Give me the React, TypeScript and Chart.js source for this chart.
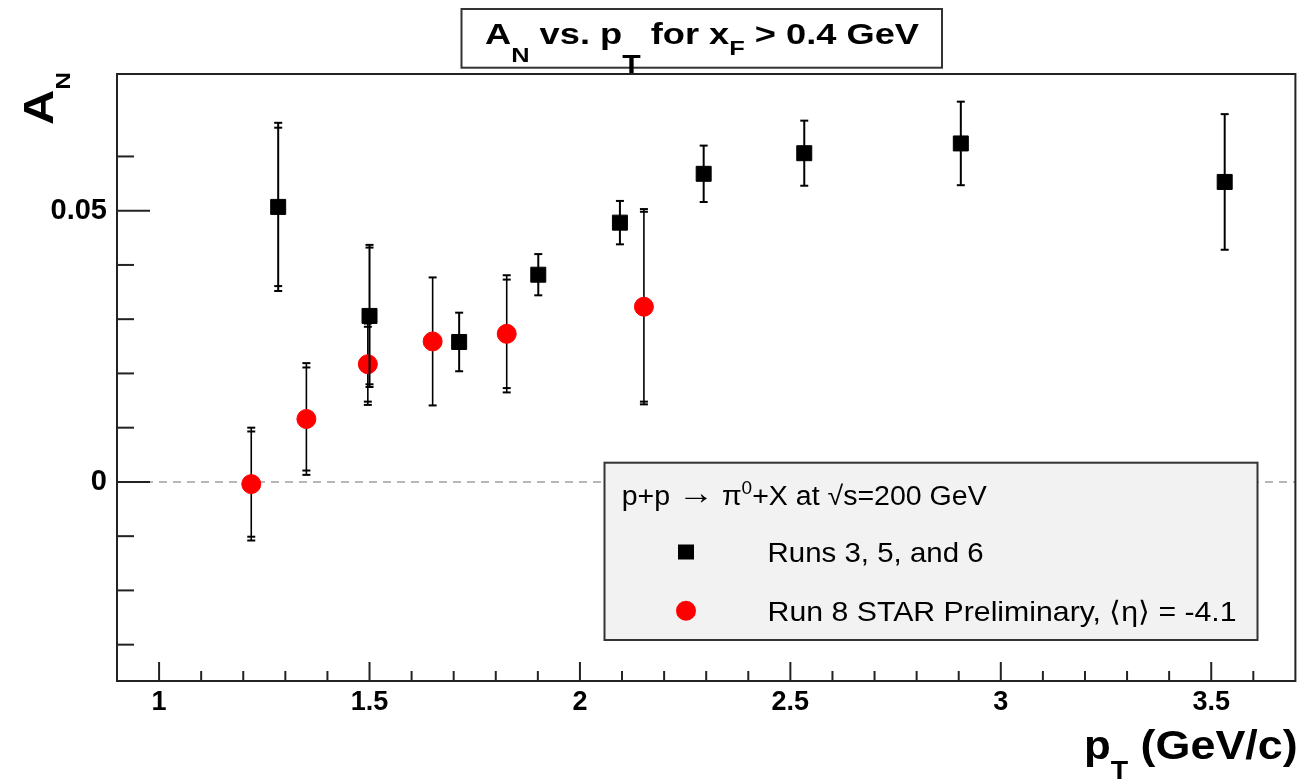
import React, { useEffect, useRef } from 'react';
import { Chart, registerables } from 'chart.js';

Chart.register(...registerables);

// ---------- data ----------
const runs356Label = 'Runs 3, 5, and 6';
const runs356X = [1.283, 1.5, 1.713, 1.901, 2.095, 2.294, 2.533, 2.905, 3.532];
const runs356Y = [0.0507, 0.0306, 0.0258, 0.0382, 0.0478, 0.0568, 0.0606, 0.0624, 0.0553];
const runs356ErrInner = [0.0146, 0.0126, 0.0054, 0.0038, 0.004, 0.0052, 0.006, 0.0077, 0.0125];
const runs356ErrOuter = [0.0155, 0.0131, 0.0054, 0.0038, 0.004, 0.0052, 0.006, 0.0077, 0.0125];

const run8Label = 'Run 8 STAR Preliminary, \u27E8\u03B7\u27E9 = -4.1';
const run8X = [1.219, 1.35, 1.496, 1.65, 1.826, 2.152];
const run8Y = [-0.0004, 0.0116, 0.0217, 0.0259, 0.0273, 0.0323];
const run8ErrInner = [0.0097, 0.0095, 0.0069, 0.0118, 0.01, 0.0175];
const run8ErrOuter = [0.0104, 0.0103, 0.0075, 0.0118, 0.0108, 0.018];

const xMin = 0.9;
const xMax = 3.7;
const yMin = -0.0367;
const yMax = 0.0752;
const xLabelValues = [1, 1.5, 2, 2.5, 3, 3.5];
const yLabelValues = [0, 0.05];

const FONT = '"Liberation Sans", Arial, Helvetica, sans-serif';

type Seg = { t: string; size: number; dy?: number; bold?: boolean };

function drawSegs(ctx: CanvasRenderingContext2D, segs: Seg[], x: number, baseline: number, targetWidth: number) {
  let total = 0;
  const widths = segs.map((s) => {
    ctx.font = `${s.bold ? 'bold ' : ''}${s.size}px ${FONT}`;
    const w = ctx.measureText(s.t).width;
    total += w;
    return w;
  });
  const sx = targetWidth / total;
  ctx.save();
  ctx.translate(x, baseline);
  ctx.scale(sx, 1);
  ctx.textAlign = 'left';
  ctx.textBaseline = 'alphabetic';
  ctx.fillStyle = '#000';
  let cx = 0;
  segs.forEach((s, i) => {
    ctx.font = `${s.bold ? 'bold ' : ''}${s.size}px ${FONT}`;
    ctx.fillText(s.t, cx, s.dy || 0);
    cx += widths[i];
  });
  ctx.restore();
}

const isMult = (v: number, step: number) => Math.abs(v / step - Math.round(v / step)) < 1e-6;

const errorBarPlugin = {
  id: 'errorBars',
  beforeDatasetDraw(chart: any, args: any) {
    const ds = chart.data.datasets[args.index];
    const { ctx } = chart;
    const xs = chart.scales.x;
    const ys = chart.scales.y;
    ctx.save();
    ctx.strokeStyle = '#000';
    ds.data.forEach((p: any, i: number) => {
      const px = xs.getPixelForValue(p.x);
      const outer = ds.errOuter[i];
      const inner = ds.errInner[i];
      const top = ys.getPixelForValue(p.y + outer);
      const bot = ys.getPixelForValue(p.y - outer);
      ctx.lineWidth = ds.errLineWidth;
      ctx.beginPath();
      ctx.moveTo(px, top);
      ctx.lineTo(px, bot);
      ctx.stroke();
      ctx.lineWidth = 2;
      const caps = [p.y + outer, p.y - outer];
      if (Math.abs(inner - outer) > 1e-9) caps.push(p.y + inner, p.y - inner);
      caps.forEach((v) => {
        const py = ys.getPixelForValue(v);
        ctx.beginPath();
        ctx.moveTo(px - 4, py);
        ctx.lineTo(px + 4, py);
        ctx.stroke();
      });
    });
    ctx.restore();
  },
};

const framePlugin = {
  id: 'rootFrame',
  beforeDatasetsDraw(chart: any) {
    const { ctx, chartArea } = chart;
    const ys = chart.scales.y;
    const y0 = ys.getPixelForValue(0);
    ctx.save();
    ctx.strokeStyle = '#a0a0a0';
    ctx.lineWidth = 1.5;
    ctx.setLineDash([8, 6]);
    ctx.beginPath();
    ctx.moveTo(chartArea.left, y0);
    ctx.lineTo(chartArea.right, y0);
    ctx.stroke();
    ctx.restore();
  },
  afterDatasetsDraw(chart: any) {
    const { ctx, chartArea } = chart;
    const xs = chart.scales.x;
    const ys = chart.scales.y;
    ctx.save();
    ctx.strokeStyle = '#222';
    ctx.lineWidth = 2;
    // ticks on y axis (inside)
    ys.ticks.forEach((t: any) => {
      const v = t.value;
      if (!isMult(v, 0.01)) return;
      const py = ys.getPixelForValue(v);
      if (py < chartArea.top + 2 || py > chartArea.bottom - 2) return;
      const len = isMult(v, 0.05) ? 33 : 17;
      ctx.beginPath();
      ctx.moveTo(chartArea.left, py);
      ctx.lineTo(chartArea.left + len, py);
      ctx.stroke();
    });
    // ticks on x axis (inside)
    xs.ticks.forEach((t: any) => {
      const v = t.value;
      if (!isMult(v, 0.1)) return;
      const px = xs.getPixelForValue(v);
      if (px < chartArea.left + 2 || px > chartArea.right - 2) return;
      const len = isMult(v, 0.5) ? 19 : 10;
      ctx.beginPath();
      ctx.moveTo(px, chartArea.bottom);
      ctx.lineTo(px, chartArea.bottom - len);
      ctx.stroke();
    });
    ctx.strokeRect(chartArea.left, chartArea.top, chartArea.right - chartArea.left, chartArea.bottom - chartArea.top);
    ctx.restore();
  },
  afterDraw(chart: any) {
    const { ctx } = chart;
    const datasets = chart.data.datasets;
    // legend box
    ctx.save();
    ctx.fillStyle = '#f2f2f2';
    ctx.fillRect(604.5, 462.7, 653, 177.3);
    ctx.strokeStyle = '#333';
    ctx.lineWidth = 2;
    ctx.strokeRect(604.5, 462.7, 653, 177.3);
    ctx.restore();
    drawSegs(
      ctx,
      [
        { t: 'p+p ', size: 27 },
        { t: '\u2192', size: 34, dy: -1 },
        { t: ' \u03C0', size: 27 },
        { t: '0', size: 18, dy: -11 },
        { t: '+X at \u221As=200 GeV', size: 27 },
      ],
      621.7,
      505,
      365
    );
    // legend markers
    ctx.save();
    ctx.fillStyle = datasets[0].pointBackgroundColor;
    ctx.fillRect(686 - 8, 552 - 7.5, 16, 15);
    ctx.fillStyle = datasets[1].pointBackgroundColor;
    ctx.beginPath();
    ctx.arc(686, 610.7, 10, 0, Math.PI * 2);
    ctx.fill();
    ctx.restore();
    drawSegs(ctx, [{ t: datasets[0].label, size: 28 }], 767.6, 562, 216);
    drawSegs(ctx, [{ t: datasets[1].label, size: 28 }], 767.6, 620.5, 469);

    // title box
    ctx.save();
    ctx.fillStyle = '#fff';
    ctx.fillRect(461.5, 9, 480.5, 58.7);
    ctx.strokeStyle = '#333';
    ctx.lineWidth = 2;
    ctx.strokeRect(461.5, 9, 480.5, 58.7);
    ctx.restore();
    drawSegs(
      ctx,
      [
        { t: 'A', size: 30, bold: true },
        { t: 'N', size: 21, dy: 18, bold: true },
        { t: ' vs. p', size: 30, bold: true },
        { t: 'T', size: 25, dy: 29, bold: true },
        { t: ' for x', size: 30, bold: true },
        { t: 'F', size: 21, dy: 11, bold: true },
        { t: ' > 0.4 GeV', size: 30, bold: true },
      ],
      485,
      44,
      434
    );

    // y axis title (rotated)
    ctx.save();
    ctx.translate(53, 125);
    ctx.rotate(-Math.PI / 2);
    drawSegs(
      ctx,
      [
        { t: 'A', size: 42, bold: true },
        { t: 'N', size: 21, dy: 17, bold: true },
      ],
      0,
      0,
      53
    );
    ctx.restore();

    // x axis title
    drawSegs(
      ctx,
      [
        { t: 'p', size: 40, bold: true },
        { t: 'T', size: 26, dy: 20, bold: true },
        { t: ' (GeV/c)', size: 41, bold: true },
      ],
      1084,
      759,
      213.7
    );
  },
};

export default function App() {
  const ref = useRef<HTMLCanvasElement>(null);
  useEffect(() => {
    if (!ref.current) return;
    const chart = new Chart(ref.current, {
      type: 'scatter',
      data: {
        datasets: [
          {
            label: runs356Label,
            data: runs356X.map((x, i) => ({ x, y: runs356Y[i] })),
            pointStyle: 'rect',
            pointRadius: 10.6,
            pointBackgroundColor: '#000000',
            pointBorderColor: '#000000',
            pointBorderWidth: 1,
            errInner: runs356ErrInner,
            errOuter: runs356ErrOuter,
            errLineWidth: 2,
          } as any,
          {
            label: run8Label,
            data: run8X.map((x, i) => ({ x, y: run8Y[i] })),
            pointStyle: 'circle',
            pointRadius: 9.5,
            pointBackgroundColor: '#ff0000',
            pointBorderColor: '#ff0000',
            pointBorderWidth: 1,
            errInner: run8ErrInner,
            errOuter: run8ErrOuter,
            errLineWidth: 1.6,
          } as any,
        ],
      },
      options: {
        responsive: false,
        animation: false,
        devicePixelRatio: 1,
        layout: { padding: { left: 0, top: 74, right: 9.3, bottom: 0 } },
        plugins: {
          legend: { display: false },
          tooltip: { enabled: false },
          title: { display: false },
        },
        scales: {
          x: {
            type: 'linear',
            min: xMin,
            max: xMax,
            afterFit: (s: any) => {
              s.height = 102;
            },
            grid: { display: false, drawTicks: false },
            border: { display: false },
            ticks: {
              stepSize: 0.1,
              autoSkip: false,
              maxRotation: 0,
              minRotation: 0,
              padding: 5,
              color: '#000',
              font: { family: FONT, weight: 'bold', size: 27 },
              callback: (value: any) => {
                const v = Number(value);
                return xLabelValues.some((l) => Math.abs(l - v) < 1e-6) ? String(Math.round(v * 10) / 10) : '';
              },
            },
          },
          y: {
            type: 'linear',
            min: yMin,
            max: yMax,
            afterFit: (s: any) => {
              s.width = 117;
            },
            grid: { display: false, drawTicks: false },
            border: { display: false },
            ticks: {
              stepSize: 0.01,
              autoSkip: false,
              padding: 10,
              color: '#000',
              font: { family: FONT, weight: 'bold', size: 29 },
              callback: (value: any) => {
                const v = Number(value);
                const hit = yLabelValues.find((l) => Math.abs(l - v) < 1e-6);
                return hit === undefined ? '' : String(hit);
              },
            },
          },
        },
      },
      plugins: [errorBarPlugin, framePlugin],
    });
    return () => chart.destroy();
  }, []);
  return (
    <div style={{ position: 'fixed', left: 0, top: 0, width: 1307, height: 783, background: '#fff' }}>
      <canvas ref={ref} width={1307} height={783} style={{ display: 'block', width: 1307, height: 783 }} />
    </div>
  );
}
